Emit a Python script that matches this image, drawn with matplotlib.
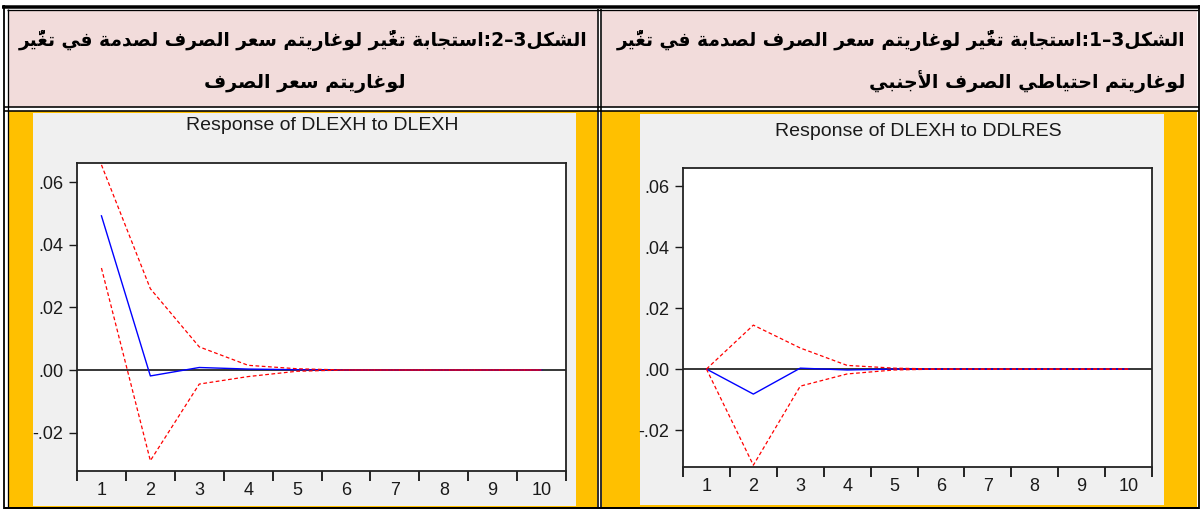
import matplotlib
matplotlib.use("Agg")
import matplotlib.pyplot as plt
from matplotlib.patches import Rectangle
from matplotlib.lines import Line2D
from matplotlib.ticker import FixedLocator, FuncFormatter, NullFormatter

# ---------------- data ----------------
periods = [1, 2, 3, 4, 5, 6, 7, 8, 9, 10]

# Response of DLEXH to DLEXH (left panel)
resp_exh = [0.0493, -0.0019, 0.0008, 0.0003, 0.0001, 0.0, 0.0, 0.0, 0.0, 0.0]
upper_exh = [0.0656, 0.0260, 0.0074, 0.0015, 0.0004, 0.0, 0.0, 0.0, 0.0, 0.0]
lower_exh = [0.0326, -0.0290, -0.0045, -0.0021, -0.0004, 0.0, 0.0, 0.0, 0.0, 0.0]

# Response of DLEXH to DDLRES (right panel)
resp_res = [0.0, -0.0082, 0.0003, -0.0003, 0.0, 0.0, 0.0, 0.0, 0.0, 0.0]
upper_res = [0.0, 0.0144, 0.0069, 0.0012, 0.0003, 0.0, 0.0, 0.0, 0.0, 0.0]
lower_res = [0.0, -0.0315, -0.0056, -0.0016, -0.0003, 0.0, 0.0, 0.0, 0.0, 0.0]

y_ticks = [-0.02, 0.0, 0.02, 0.04, 0.06]
x_labels = ["1", "2", "3", "4", "5", "6", "7", "8", "9", "10"]

title_left = "Response of DLEXH to DLEXH"
title_right = "Response of DLEXH to DDLRES"

head_left_1 = "الشكل3–2:استجابة تغي\u0651\u064Fر لوغاريتم سعر الصرف لصدمة في تغي\u0651\u064Fر"
head_left_2 = "لوغاريتم سعر الصرف"
head_right_1 = "الشكل3–1:استجابة تغي\u0651\u064Fر لوغاريتم سعر الصرف لصدمة في تغي\u0651\u064Fر"
head_right_2 = "لوغاريتم احتياطي الصرف الأجنبي"

# ---------------- Arabic shaping (presentation forms + visual order) ----------------
AR_FORMS = {
    'ا': ('\uFE8D', '\uFE8E'),
    'أ': ('\uFE83', '\uFE84'),
    'ب': ('\uFE8F', '\uFE90', '\uFE91', '\uFE92'),
    'ة': ('\uFE93', '\uFE94'),
    'ت': ('\uFE95', '\uFE96', '\uFE97', '\uFE98'),
    'ج': ('\uFE9D', '\uFE9E', '\uFE9F', '\uFEA0'),
    'ح': ('\uFEA1', '\uFEA2', '\uFEA3', '\uFEA4'),
    'د': ('\uFEA9', '\uFEAA'),
    'ر': ('\uFEAD', '\uFEAE'),
    'س': ('\uFEB1', '\uFEB2', '\uFEB3', '\uFEB4'),
    'ش': ('\uFEB5', '\uFEB6', '\uFEB7', '\uFEB8'),
    'ص': ('\uFEB9', '\uFEBA', '\uFEBB', '\uFEBC'),
    'ط': ('\uFEC1', '\uFEC2', '\uFEC3', '\uFEC4'),
    'ع': ('\uFEC9', '\uFECA', '\uFECB', '\uFECC'),
    'غ': ('\uFECD', '\uFECE', '\uFECF', '\uFED0'),
    'ف': ('\uFED1', '\uFED2', '\uFED3', '\uFED4'),
    'ك': ('\uFED9', '\uFEDA', '\uFEDB', '\uFEDC'),
    'ل': ('\uFEDD', '\uFEDE', '\uFEDF', '\uFEE0'),
    'م': ('\uFEE1', '\uFEE2', '\uFEE3', '\uFEE4'),
    'ن': ('\uFEE5', '\uFEE6', '\uFEE7', '\uFEE8'),
    'و': ('\uFEED', '\uFEEE'),
    'ي': ('\uFEF1', '\uFEF2', '\uFEF3', '\uFEF4'),
}
LAM_ALEF = {'ا': ('\uFEFB', '\uFEFC'), 'أ': ('\uFEF7', '\uFEF8')}
MARKS = set('\u064B\u064C\u064D\u064E\u064F\u0650\u0651\u0652')


def ar_visual(text):
    clusters = []
    for ch in text:
        if ch in MARKS and clusters:
            clusters[-1][1].append(ch)
        else:
            clusters.append([ch, []])
    out = []
    i = 0
    n = len(clusters)
    while i < n:
        base, marks = clusters[i]
        prev = clusters[i - 1][0] if i > 0 else None
        prev_join = prev in AR_FORMS and len(AR_FORMS[prev]) == 4
        if base in AR_FORMS:
            if base == 'ل' and i + 1 < n and clusters[i + 1][0] in LAM_ALEF:
                lig = LAM_ALEF[clusters[i + 1][0]]
                g = lig[1] if prev_join else lig[0]
                out.append(g + ''.join(marks) + ''.join(clusters[i + 1][1]))
                i += 2
                continue
            forms = AR_FORMS[base]
            nxt = clusters[i + 1][0] if i + 1 < n else None
            next_join = len(forms) == 4 and nxt in AR_FORMS
            if prev_join and next_join:
                g = forms[3]
            elif prev_join:
                g = forms[1]
            elif next_join:
                g = forms[2]
            else:
                g = forms[0]
            out.append(g + ''.join(marks))
        else:
            out.append(base + ''.join(marks))
        i += 1
    return ''.join(reversed(out))


# ---------------- figure ----------------
W, H = 1200, 509
fig = plt.figure(figsize=(W / 100, H / 100), dpi=100)
fig.patch.set_facecolor("white")


def rect_px(x0, y0, x1, y1, color, z=0):
    fig.add_artist(Rectangle((x0 / W, 1 - y1 / H), (x1 - x0) / W, (y1 - y0) / H,
                             transform=fig.transFigure, facecolor=color,
                             edgecolor="none", zorder=z))


def line_px(x0, y0, x1, y1, lw=1.5, color="black", z=5):
    fig.add_artist(Line2D([x0 / W, x1 / W], [1 - y0 / H, 1 - y1 / H],
                          transform=fig.transFigure, color=color,
                          linewidth=lw * 0.72, zorder=z, solid_capstyle="butt"))


PINK = "#F2DCDB"
GOLD = "#FFC000"
GREY = "#F0F0F0"

# cell backgrounds
rect_px(8, 10, 597, 107, PINK)
rect_px(602, 10, 1197, 107, PINK)
rect_px(8, 111, 597, 507, GOLD)
rect_px(602, 111, 1197, 507, GOLD)
# EViews grey panels
rect_px(32.5, 113, 576, 506, GREY, z=1)
rect_px(640, 114, 1164, 505, GREY, z=1)

# table borders (double lines)
line_px(2, 6.5, 1200, 6.5, lw=3.5)
line_px(7, 9.5, 1198, 9.5, lw=1.3)
line_px(4, 5, 4, 509, lw=1.8)
line_px(7.5, 9, 7.5, 507, lw=1.3)
line_px(598, 9, 598, 507, lw=1.6)
line_px(601.3, 9, 601.3, 507, lw=1.6)
line_px(1198.5, 5, 1198.5, 509, lw=1.8)
line_px(4, 107, 1199, 107, lw=1.6)
line_px(4, 111, 1199, 111, lw=1.6)
line_px(4, 507.5, 1199, 507.5, lw=2.0)

# Arabic headers (font size fitted so first line spans the cell as in the reference)
ar_kw = dict(family=["DejaVu Sans"], fontweight="bold", color="black", zorder=6)
renderer = fig.canvas.get_renderer()
probe = fig.text(0, 0, ar_visual(head_left_1), fontsize=15, **ar_kw)
w15 = probe.get_window_extent(renderer=renderer).width
probe.remove()
ar_size = 15 * 566 / w15

fig.text(303 / W, 1 - 46 / H, ar_visual(head_left_1), ha="center", va="baseline",
         fontsize=ar_size, **ar_kw)
fig.text(305 / W, 1 - 88 / H, ar_visual(head_left_2), ha="center", va="baseline",
         fontsize=ar_size * 1.02, **ar_kw)
fig.text(901 / W, 1 - 46 / H, ar_visual(head_right_1), ha="center", va="baseline",
         fontsize=ar_size, **ar_kw)
fig.text(1185 / W, 1 - 88 / H, ar_visual(head_right_2), ha="right", va="baseline",
         fontsize=ar_size * 1.02, **ar_kw)


def make_panel(box, title, title_pos, resp, upper, lower, ylim):
    x0, y0, x1, y1 = box
    ax = fig.add_axes([x0 / W, 1 - y1 / H, (x1 - x0) / W, (y1 - y0) / H], zorder=3)
    ax.set_facecolor("white")
    ax.axhline(0, color="black", lw=1.1, zorder=1)
    ax.plot(periods, resp, color="#0000FF", lw=1.0, zorder=2)
    ax.plot(periods, upper, color="#FF0000", lw=0.9, ls=(0, (3, 2)), zorder=3)
    ax.plot(periods, lower, color="#FF0000", lw=0.9, ls=(0, (3, 2)), zorder=3)
    ax.set_xlim(0.5, 10.5)
    ax.set_ylim(*ylim)
    ax.xaxis.set_major_locator(FixedLocator([p - 0.5 for p in periods] + [10.5]))
    ax.xaxis.set_major_formatter(NullFormatter())
    ax.xaxis.set_minor_locator(FixedLocator(periods))
    ax.set_xticklabels(x_labels, minor=True)
    ax.tick_params(axis="x", which="major", direction="out", length=7, width=1.2, color="black")
    ax.tick_params(axis="x", which="minor", length=0, pad=8, labelsize=13,
                   labelfontfamily="Liberation Sans", colors="#1a1a1a")
    ax.yaxis.set_major_locator(FixedLocator(y_ticks))
    ax.yaxis.set_major_formatter(FuncFormatter(lambda v, p: f"{v:.2f}".replace("0.", ".")))
    ax.tick_params(axis="y", direction="out", length=6, width=1.0, pad=4, labelsize=13,
                   labelfontfamily="Liberation Sans", colors="#1a1a1a")
    for s in ax.spines.values():
        s.set_linewidth(1.3)
        s.set_color("#222222")
    fig.text(title_pos[0] / W, 1 - title_pos[1] / H, title, ha="center", va="center",
             family="Liberation Sans", fontsize=14, color="#1a1a1a", zorder=6)
    return ax


make_panel((77, 163, 566, 471), title_left, (322, 126), resp_exh, upper_exh, lower_exh,
           (-0.0323, 0.0662))
make_panel((683, 168, 1152, 467), title_right, (918, 132), resp_res, upper_res, lower_res,
           (-0.0321, 0.0659))

fig.savefig("out.png", dpi=100, facecolor=fig.get_facecolor())
